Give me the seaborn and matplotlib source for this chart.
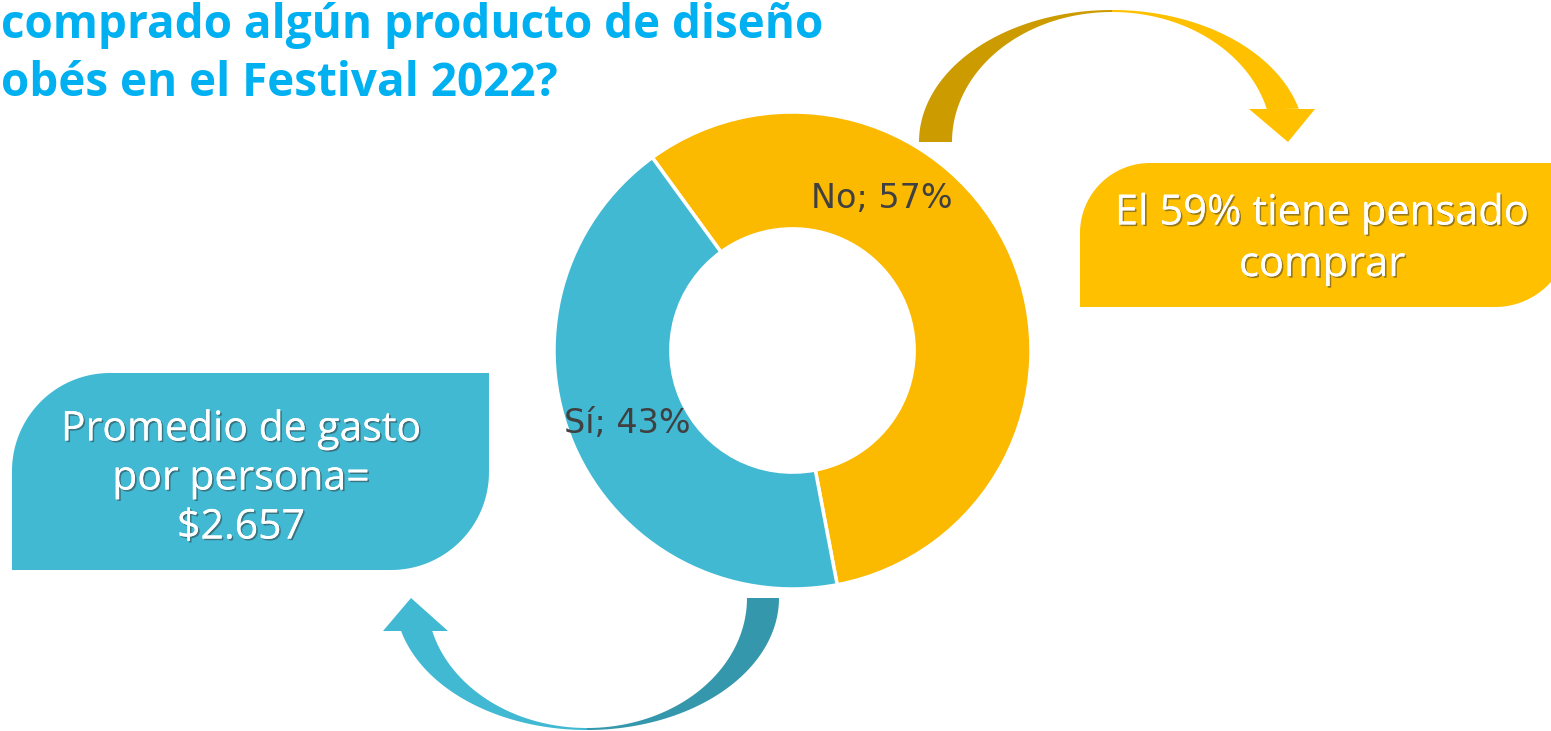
import numpy as np
import matplotlib
matplotlib.use("Agg")
import matplotlib.pyplot as plt
import matplotlib.patheffects as pe
from matplotlib.patches import Polygon
import seaborn as sns

# datos
categorias = ["No", "Sí"]
porcentajes = [57, 43]
colores = ["#FBB900", "#41B9D3"]
titulo = ["comprado algún producto de diseño", "obés en el Festival 2022?"]
texto_naranja = "El 59% tiene pensado\ncomprar"
texto_azul = "Promedio de gasto\npor persona=\n$2.657"

sns.set_theme(style="white")
W, H = 1551, 731
fig = plt.figure(figsize=(W / 100, H / 100), dpi=100)

# lienzo en pixeles para las formas decorativas
bg = fig.add_axes([0, 0, 1, 1])
bg.set_xlim(0, W)
bg.set_ylim(H, 0)
bg.axis("off")


def leaf_box(x0, y0, x1, y1, r_tl, r_br, color):
    t = np.linspace(np.pi, 1.5 * np.pi, 40)
    pts = list(zip(x0 + r_tl + r_tl * np.cos(t), y0 + r_tl + r_tl * np.sin(t)))
    pts.append((x1, y0))
    t = np.linspace(0, 0.5 * np.pi, 40)
    pts += list(zip(x1 - r_br + r_br * np.cos(t), y1 - r_br + r_br * np.sin(t)))
    pts.append((x0, y1))
    bg.add_patch(Polygon(pts, closed=True, facecolor=color, edgecolor="none"))


def arc_band(cx, cy, a_out, b_out, a_in, b_in, t0, t1, color):
    t = np.radians(np.linspace(t0, t1, 80))
    outer = list(zip(cx + a_out * np.cos(t), cy + b_out * np.sin(t)))
    inner = list(zip(cx + a_in * np.cos(t[::-1]), cy + b_in * np.sin(t[::-1])))
    bg.add_patch(Polygon(outer + inner, closed=True, facecolor=color, edgecolor="none"))


# cajas
leaf_box(1080, 163, 1570, 307, 70, 75, "#FFC000")
leaf_box(12, 373, 489, 570, 98, 98, "#41B9D3")

# flecha curva superior
arc_band(1112, 142, 193, 132, 160, 130, 180, 270, "#CC9B00")
arc_band(1112, 142, 193, 132, 160, 130, 270, 345.4, "#FFC000")
bg.add_patch(Polygon([(1249, 109), (1315, 109), (1288, 142)], facecolor="#FFC000", edgecolor="none"))

# flecha curva inferior
arc_band(587, 598, 192, 132, 160, 130, 0, 90, "#3497AB")
arc_band(587, 598, 192, 132, 160, 130, 90, 165.5, "#41B9D3")
bg.add_patch(Polygon([(383, 631), (448, 631), (411, 598)], facecolor="#41B9D3", edgecolor="none"))

# titulo
for i, linea in enumerate(titulo):
    bg.text(1, 38 + 58 * i, linea, color="#00B0F0", fontsize=33, fontweight="bold",
            family="Open Sans", ha="left", va="baseline")

# textos de las cajas
sombra = [pe.withSimplePatchShadow(offset=(1.2, -1.2), shadow_rgbFace="#333333", alpha=0.5), pe.Normal()]
bg.text(1322, 239, texto_naranja, color="white", fontsize=30, family="Open Sans",
        ha="center", va="center", linespacing=1.3, path_effects=sombra)
bg.text(241, 479, texto_azul, color="white", fontsize=29.5, family="Open Sans",
        ha="center", va="center", linespacing=1.28, path_effects=sombra)

# dona
ax = fig.add_axes([554 / W, 142 / H, 477 / W, 477 / H])
ax.pie(porcentajes, colors=colores, startangle=126, counterclock=False,
       wedgeprops=dict(width=0.49, edgecolor="white", linewidth=2.5))
ax.set_xlim(-1, 1)
ax.set_ylim(-1, 1)
ax.set_aspect("equal")
ax.axis("off")

pos = [(0.375, 0.639), (-0.694, -0.308)]
for cat, val, (x, y) in zip(categorias, porcentajes, pos):
    ax.text(x, y, f"{cat}; {val}%", color="#404040", fontsize=24, family="DejaVu Sans",
            ha="center", va="center")

fig.savefig("out.png", dpi=100)
